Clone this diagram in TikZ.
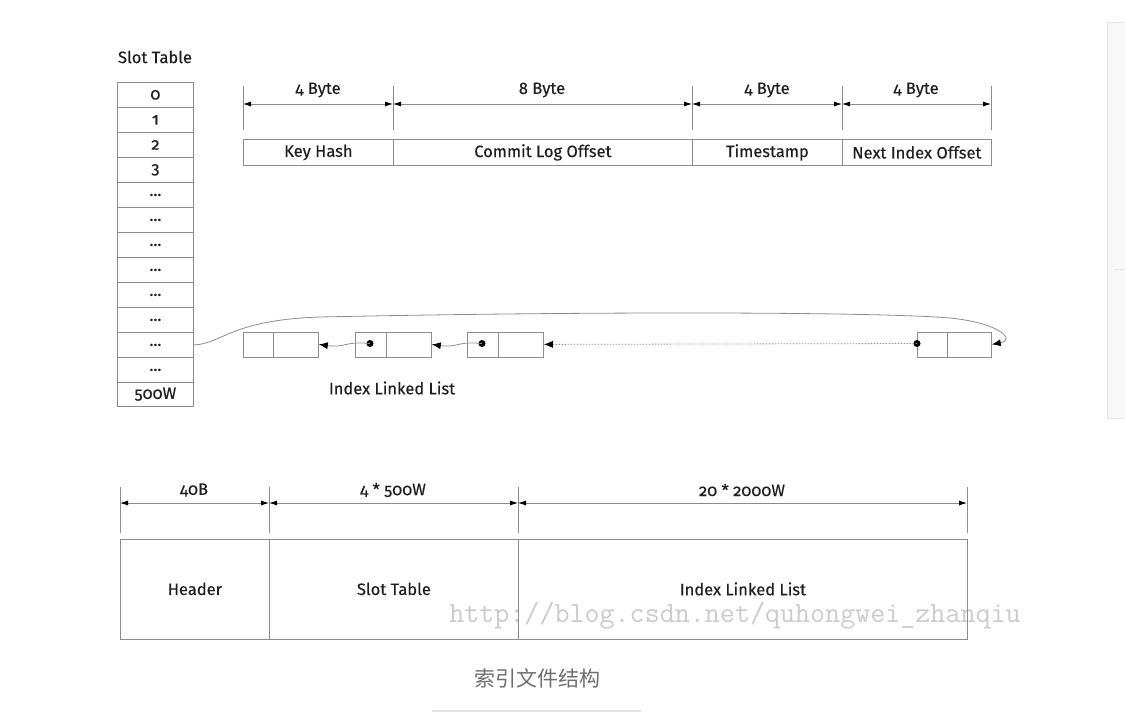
\documentclass[tikz,border=0pt]{standalone}
\usepackage{fontspec}
\setmainfont{Fira Sans}[Numbers=OldStyle, FakeBold=0.25]
\newfontfamily\cjk{Noto Sans CJK SC}
\usetikzlibrary{arrows.meta}
\definecolor{linegray}{HTML}{8C8C8C}
\definecolor{txt}{HTML}{1E1E1E}
\definecolor{wm}{HTML}{CBCBCB}
\definecolor{cap}{HTML}{6E6E6E}
\definecolor{panel}{HTML}{F8F8F8}
\definecolor{panelline}{HTML}{E4E4E4}
\begin{document}
\begin{tikzpicture}[x=1pt,y=-1pt,
  lbl/.style={font=\fontsize{16.5}{17}\selectfont, text=txt, inner sep=0pt},
  slot/.style={draw=linegray, line width=0.8pt, anchor=north west, minimum width=76pt, minimum height=25pt, inner sep=0pt, lbl},
  field/.style={draw=linegray, line width=0.8pt, anchor=north west, minimum height=26pt, inner sep=0pt, lbl},
  cellbox/.style={draw=linegray, line width=0.8pt, anchor=north west, minimum height=25pt, inner sep=0pt},
  bigbox/.style={draw=linegray, line width=0.8pt, anchor=north west, minimum height=100pt, inner sep=0pt, lbl},
  tick/.style={draw=linegray, line width=0.8pt},
  dim/.style={draw=linegray, line width=0.8pt, {Latex[length=8pt,width=5pt,color=black]}-{Latex[length=8pt,width=5pt,color=black]}},
  ptr/.style={draw=linegray, line width=0.8pt, -{Latex[length=9pt,width=7pt,color=black]}},
  dotc/.style={circle, fill=black, inner sep=0pt, minimum size=7pt}
]
\useasboundingbox (0,0) rectangle (1125,713);

% right side panel
\path[fill=panel, draw=panelline] (1107,22) rectangle (1130,418);
\draw[panelline, line width=1pt] (1114,269) -- (1125,269);

% watermark
\node[font=\ttfamily\fontsize{29.2}{30}\selectfont, text=wm, inner sep=0pt] (wmark) at (735,616) {http://blog.csdn.net/quhongwei\_zhanqiu};

% Slot table
\node[lbl] (sttitle) at (155,57) {Slot Table};
\node[slot] (s0) at (117,82) {0};
\node[slot] (s1) at (117,107) {1};
\node[slot] (s2) at (117,132) {2};
\node[slot] (s3) at (117,157) {3};
\node[slot] (s4) at (117,182) {...};
\node[slot] (s5) at (117,207) {...};
\node[slot] (s6) at (117,232) {...};
\node[slot] (s7) at (117,257) {...};
\node[slot] (s8) at (117,282) {...};
\node[slot] (s9) at (117,307) {...};
\node[slot] (s10) at (117,332) {...};
\node[slot] (s11) at (117,357) {...};
\node[slot, minimum height=23.5pt] (s12) at (117,382) {500W};

% top record
\node[field, minimum width=150pt] (kh) at (243,139) {Key Hash};
\node[field, minimum width=299pt] (clo) at (393,139) {Commit Log Offset};
\node[field, minimum width=150pt] (ts) at (692,139) {Timestamp};
\node[field, minimum width=149pt] (nio) at (842,139) {Next Index Offset};

\foreach \n/\x in {a/243,b/393,c/692,d/842,e/991}{
  \coordinate (ut\n) at (\x,86);
  \coordinate (lt\n) at (\x,130);
  \coordinate (m\n) at (\x,104);
  \draw[tick] (ut\n) -- (lt\n);
}
\draw[dim] (ma) -- (mb);
\draw[dim] (mb) -- (mc);
\draw[dim] (mc) -- (md);
\draw[dim] (md) -- (me);
\node[lbl] (l1) at (318,90) {4 Byte};
\node[lbl] (l2) at (542,90) {8 Byte};
\node[lbl] (l3) at (767,90) {4 Byte};
\node[lbl] (l4) at (916,90) {4 Byte};

% linked list
\node[cellbox, minimum width=30pt] (a1) at (243,331.5) {};
\node[cellbox, minimum width=45pt] (b1) at (273,331.5) {};
\node[cellbox, minimum width=31pt] (a2) at (355,331.5) {};
\node[cellbox, minimum width=45pt] (b2) at (386,331.5) {};
\node[cellbox, minimum width=31pt] (a3) at (467,331.5) {};
\node[cellbox, minimum width=45pt] (b3) at (498,331.5) {};
\node[cellbox, minimum width=30pt] (a4) at (917,331.5) {};
\node[cellbox, minimum width=44pt] (b4) at (947,331.5) {};

\node[dotc] (p2) at (370,343.5) {};
\node[dotc] (p3) at (482,343.5) {};
\node[dotc] (p4) at (917,343.5) {};

\draw[ptr] (p2.center) .. controls (345,341) and (345,348) .. (b1.east);
\draw[ptr] (p3.center) .. controls (457,341) and (457,348) .. (b2.east);
\draw[ptr, dash pattern=on 1.5pt off 1.5pt] (p4.center) -- (b3.east);
\draw[ptr] (s10.east) .. controls (222,344) and (230,320) .. (320,317)
   .. controls (600,311) and (880,312) .. (950,318)
   .. controls (1000,323) and (1016,340) .. (b4.east);

\node[lbl] (illlabel) at (392,388) {Index Linked List};

% bottom layout
\foreach \n/\x in {a/120,b/269,c/518,d/967}{
  \coordinate (bu\n) at (\x,487);
  \coordinate (bl\n) at (\x,533);
  \coordinate (bm\n) at (\x,503);
  \draw[tick] (bu\n) -- (bl\n);
}
\draw[dim] (bma) -- (bmb);
\draw[dim] (bmb) -- (bmc);
\draw[dim] (bmc) -- (bmd);
\node[lbl] (bl1) at (194,490) {40B};
\node[lbl] (bl2) at (393,490) {4 * 500W};
\node[lbl] (bl3) at (742,490) {20 * 2000W};

\node[bigbox, minimum width=149pt] (hdr) at (120,538.5) {Header};
\node[bigbox, minimum width=249pt] (stb) at (269,538.5) {Slot Table};
\node[bigbox, minimum width=449pt] (ill) at (518,538.5) {Index Linked List};

% caption
\node[font=\cjk\fontsize{21}{22}\selectfont, text=cap, inner sep=0pt] (caption) at (537,678) {索引文件结构};
\draw[panelline, line width=1.8pt] (432,711) -- (641,711);
\end{tikzpicture}
\end{document}
